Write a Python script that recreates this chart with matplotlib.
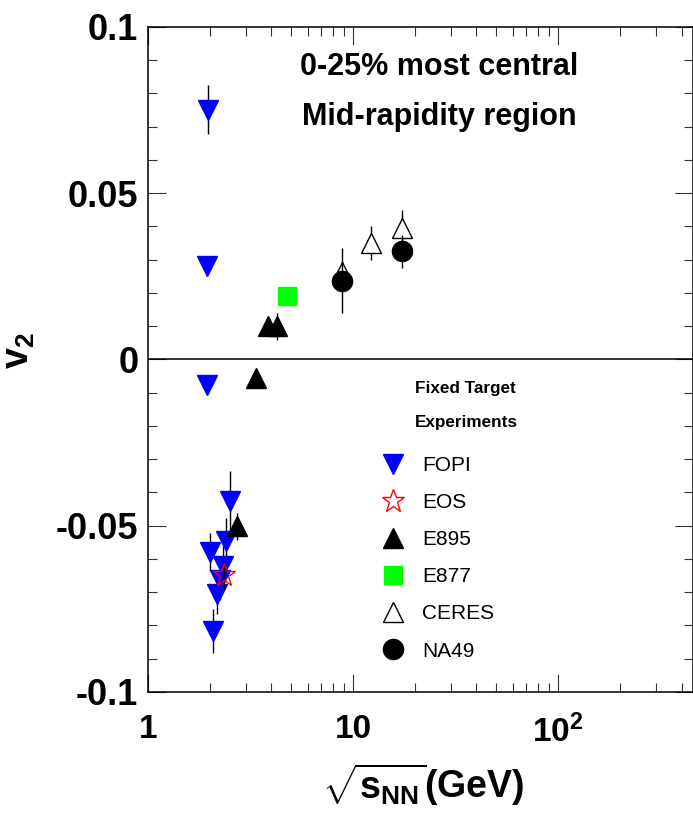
import numpy as np
import matplotlib
matplotlib.use("Agg")
import matplotlib.pyplot as plt
from matplotlib.ticker import FixedLocator, FixedFormatter, MultipleLocator, LogLocator, NullFormatter
from matplotlib.lines import Line2D

plt.rcParams['font.family'] = ['Liberation Sans', 'DejaVu Sans']
plt.rcParams['mathtext.fontset'] = 'custom'
plt.rcParams['mathtext.rm'] = 'Liberation Sans'
plt.rcParams['mathtext.bf'] = 'Liberation Sans:bold'
plt.rcParams['mathtext.it'] = 'Liberation Sans:italic'

# v2 vs beam energy, fixed target experiments
fopi_x = [1.96, 1.94, 1.95, 2.51, 2.39, 2.01, 2.33, 2.25, 2.16, 2.08]
fopi_y = [0.0751, 0.0282, -0.0078, -0.0426, -0.0546, -0.0579, -0.0621, -0.0663, -0.0706, -0.0816]
fopi_err = [0.0073, 0.001, 0.001, 0.009, 0.007, 0.0056, 0.006, 0.006, 0.006, 0.0066]

eos_x = [2.35]
eos_y = [-0.0649]
eos_err = [0.004]

e895_x = [3.86, 4.27, 3.36, 2.71]
e895_y = [0.0100, 0.0100, -0.0055, -0.0502]
e895_err = [0.002, 0.004, 0.001, 0.004]

e877_x = [4.78]
e877_y = [0.0190]
e877_err = [0.001]

ceres_x = [8.8, 12.3, 17.4]
ceres_y = [0.0264, 0.0350, 0.0395]
ceres_err = [0.003, 0.005, 0.0055]

na49_x = [8.8, 17.4]
na49_y = [0.0237, 0.0325]
na49_err = [0.0098, 0.005]

series = [
    ("FOPI", fopi_x, fopi_y, fopi_err, dict(marker='v', ms=14, mfc='#0000ff', mec='#0000ff')),
    ("EOS", eos_x, eos_y, eos_err, dict(marker='*', ms=17, mfc='none', mec='red', mew=1.0)),
    ("E895", e895_x, e895_y, e895_err, dict(marker='^', ms=14, mfc='black', mec='black')),
    ("E877", e877_x, e877_y, e877_err, dict(marker='s', ms=13.5, mfc='#00ff00', mec='#00ff00')),
    ("CERES", ceres_x, ceres_y, ceres_err, dict(marker='^', ms=14, mfc='white', mec='black', mew=1.0)),
    ("NA49", na49_x, na49_y, na49_err, dict(marker='o', ms=14.5, mfc='black', mec='black')),
]

fig = plt.figure(figsize=(6.93, 8.14), dpi=100)
ax = fig.add_axes([0.2136, 0.1499, 0.7864, 0.8170])

handles = []
for i, (name, x, y, err, style) in enumerate(series):
    ax.errorbar(x, y, yerr=err, ls='none', ecolor='black', elinewidth=1.0,
                capsize=0, zorder=3 + i, **style)
    handles.append(Line2D([], [], ls='none', **style))

ax.axhline(0, color='black', lw=1.1, zorder=2)

ax.set_xscale('log')
ax.set_xlim(1, 455)
ax.set_ylim(-0.1, 0.1)

ax.xaxis.set_major_locator(FixedLocator([1, 10, 100]))
ax.xaxis.set_major_formatter(FixedFormatter(['1', '10', r'$\mathbf{10^2}$']))
ax.xaxis.set_minor_locator(LogLocator(base=10, subs=np.arange(2, 10)))
ax.xaxis.set_minor_formatter(NullFormatter())

ax.yaxis.set_major_locator(FixedLocator([-0.1, -0.05, 0, 0.05, 0.1]))
ax.yaxis.set_major_formatter(FixedFormatter(['-0.1', '-0.05', '0', '0.05', '0.1']))
ax.yaxis.set_minor_locator(MultipleLocator(0.01))

ax.tick_params(which='both', direction='in', top=True, right=True, width=0.8, color='#333333')
ax.tick_params(which='major', length=13)
ax.tick_params(which='minor', length=6.5)
ax.tick_params(axis='x', which='major', labelsize=24, pad=16)
ax.tick_params(axis='y', which='major', labelsize=26, pad=7)
for lab in ax.get_xticklabels() + ax.get_yticklabels():
    lab.set_fontweight('bold')
for sp in ax.spines.values():
    sp.set_linewidth(1.1)

ax.set_ylabel(r'$\mathbf{v_2}$', fontsize=27, fontweight='bold')
ax.yaxis.set_label_coords(-0.204, 0.514)
ax.set_xlabel(r'$\sqrt{\mathbf{s_{NN}}}$(GeV)', fontsize=27, fontweight='bold')
ax.xaxis.set_label_coords(0.505, -0.104)

ax.text(0.534, 0.928, '0-25% most central', transform=ax.transAxes,
        ha='center', va='baseline', fontsize=22, fontweight='bold')
ax.text(0.534, 0.8526, 'Mid-rapidity region', transform=ax.transAxes,
        ha='center', va='baseline', fontsize=22, fontweight='bold')

ax.text(0.49, 0.4496, 'Fixed Target', transform=ax.transAxes,
        ha='left', va='baseline', fontsize=12.3, fontweight='bold')
ax.text(0.49, 0.3985, 'Experiments', transform=ax.transAxes,
        ha='left', va='baseline', fontsize=12.3, fontweight='bold')

ax.legend(handles, [s[0] for s in series], loc='upper left',
          bbox_to_anchor=(0.4305, 0.355), frameon=False, fontsize=15,
          borderpad=0, borderaxespad=0, handlelength=1.0, handletextpad=0.9,
          labelspacing=0.87, numpoints=1)

fig.savefig('out.png', dpi=100)
